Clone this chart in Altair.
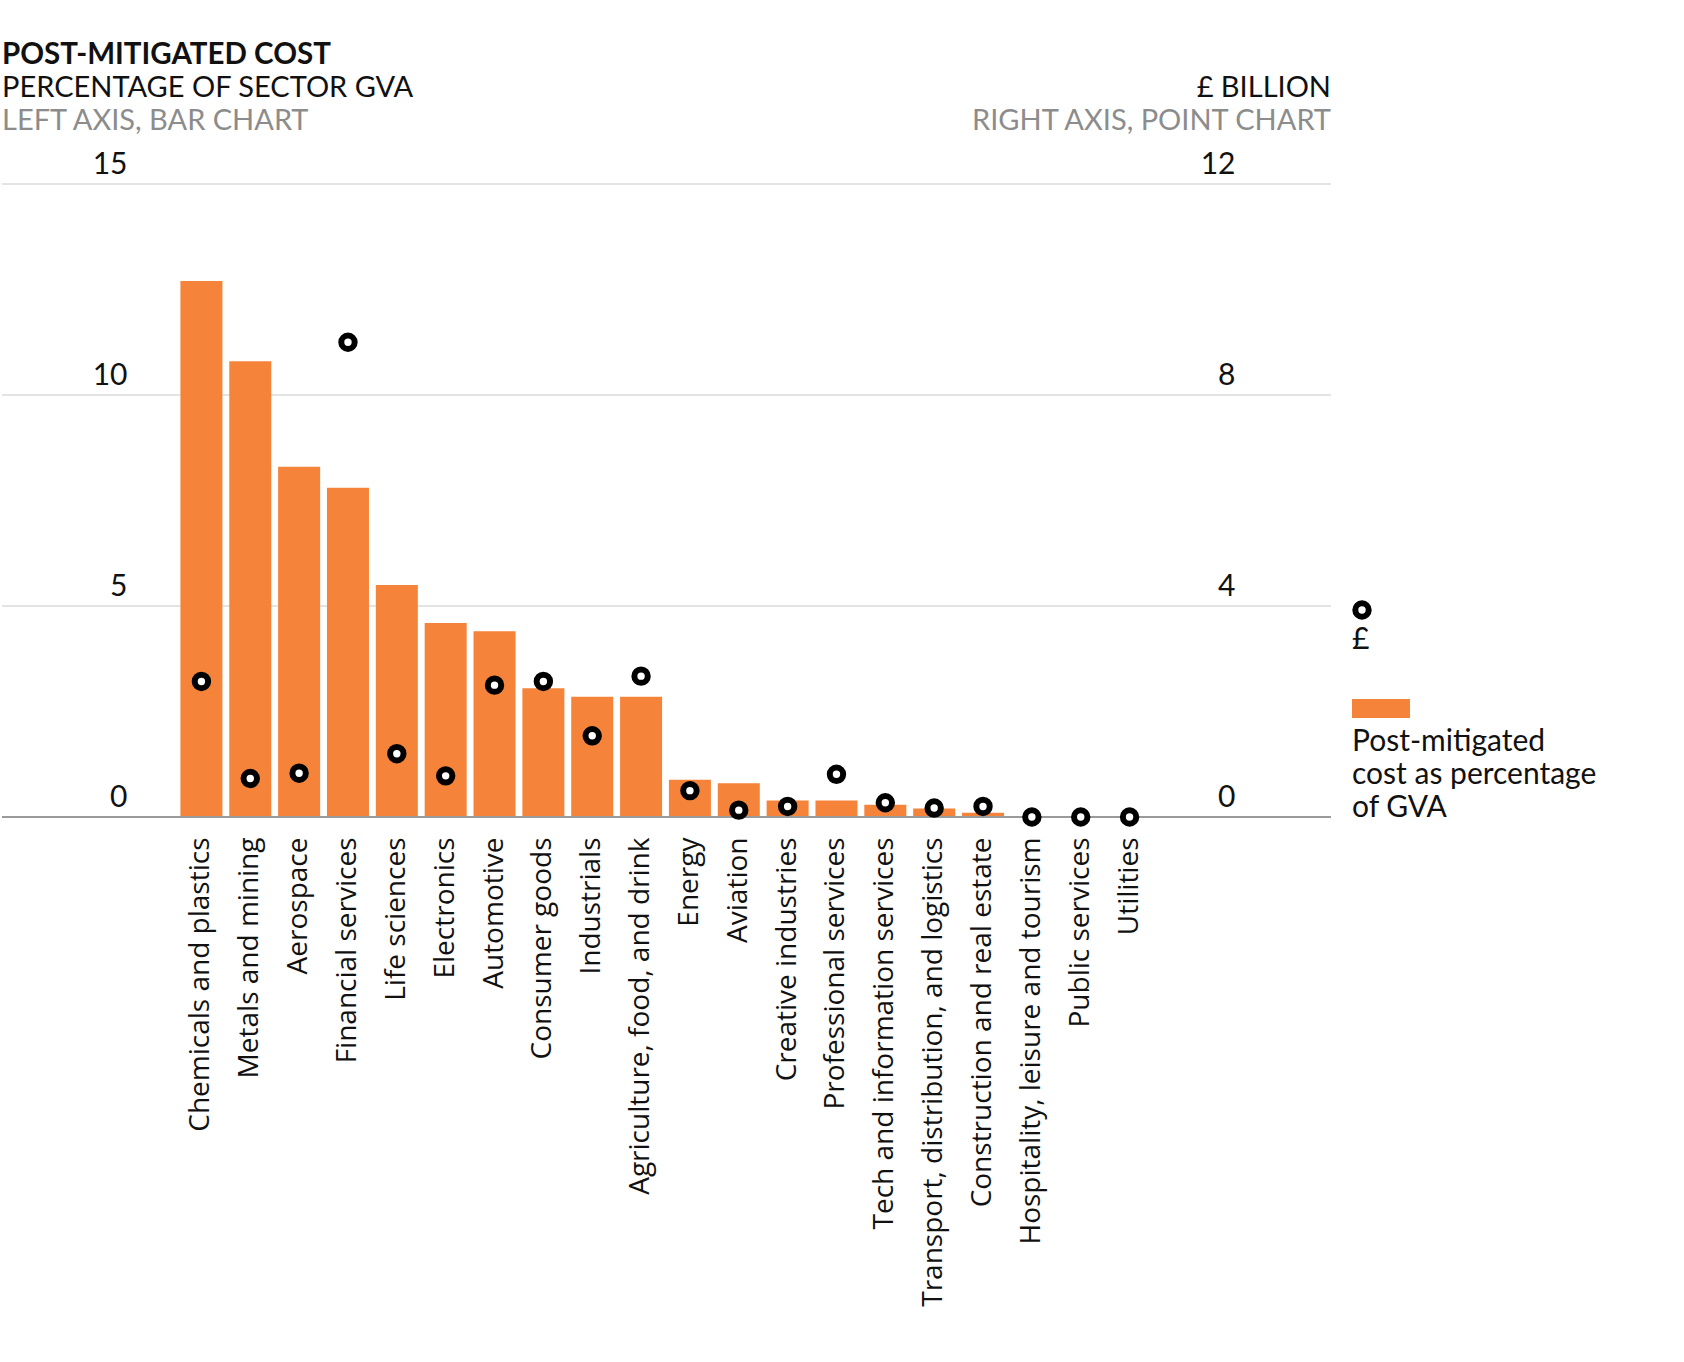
import altair as alt
import pandas as pd

sectors = [
    "Chemicals and plastics", "Metals and mining", "Aerospace", "Financial services",
    "Life sciences", "Electronics", "Automotive", "Consumer goods", "Industrials",
    "Agriculture,  food, and drink", "Energy", "Aviation", "Creative industries",
    "Professional services", "Tech and information services",
    "Transport, distribution, and logistics", "Construction and real estate",
    "Hospitality, leisure and tourism", "Public services", "Utilities",
]
pct_gva = [12.7, 10.8, 8.3, 7.8, 5.5, 4.6, 4.4, 3.05, 2.85, 2.85,
           0.88, 0.8, 0.39, 0.39, 0.29, 0.2, 0.1, 0.0, 0.0, 0.0]
cost_bn = [2.57, 0.73, 0.83, 9.0, 1.2, 0.78, 2.5, 2.57, 1.54, 2.67,
           0.5, 0.13, 0.2, 0.81, 0.27, 0.17, 0.2, 0.0, 0.0, 0.0]
left_ticks = [0, 5, 10, 15]
right_ticks = [0, 4, 8, 12]

df = pd.DataFrame({"sector": sectors, "pct": pct_gva, "bn": cost_bn})
grid_df = pd.DataFrame({"pct": left_ticks})

W, H = 1329, 633
ORANGE = "#F5833A"
TFONT = "Lato"
LFONT = "Open Sans"
DOT = dict(size=180, color="white", stroke="black", strokeWidth=6, opacity=1)

xenc = alt.X(
    "sector:N", sort=sectors, title=None,
    scale=alt.Scale(paddingInner=0.14, paddingOuter=0.07, range=[175, 1152]),
    axis=alt.Axis(labelAngle=-90, labelAlign="right", labelBaseline="middle",
                  labelPadding=20, labelFontSize=28, labelFont=LFONT,
                  labelColor="#111", labelLimit=0, ticks=False,
                  domain=False, grid=False),
)

left_axis = alt.Axis(orient="left", values=left_ticks, grid=False, domain=False,
                     ticks=False, tickSize=0, labelPadding=-125,
                     labelAlign="right", labelBaseline="alphabetic",
                     labelOffset=-11, labelFontSize=30, labelFont=TFONT,
                     labelColor="#111")
left_scale = alt.Scale(domain=[0, 15], nice=False)

gridlines = alt.Chart(grid_df).mark_rule(color="#c8c8c8", strokeWidth=1).encode(
    y=alt.Y("pct:Q", title=None, scale=left_scale, axis=left_axis),
    x=alt.value(0), x2=alt.value(W),
)

bars = alt.Chart(df).mark_bar(color=ORANGE).encode(
    x=xenc,
    y=alt.Y("pct:Q", title=None, scale=left_scale, axis=left_axis),
)

left_layer = alt.layer(gridlines, bars)

points = alt.Chart(df).mark_circle(**DOT).encode(
    x=alt.X("sector:N", sort=sectors),
    y=alt.Y("bn:Q", title=None, scale=alt.Scale(domain=[0, 12], nice=False),
            axis=alt.Axis(orient="right", values=right_ticks, grid=False,
                          domain=False, ticks=False, tickSize=0,
                          labelPadding=-96, labelAlign="right",
                          labelBaseline="alphabetic", labelOffset=-11,
                          labelFontSize=30, labelFont=TFONT, labelColor="#111")),
)

one = alt.Data(values=[{}])

baseline = alt.Chart(one).mark_rule(color="#9a9a9a", strokeWidth=2).encode(
    x=alt.value(0), x2=alt.value(W), y=alt.value(H)
)


def txt(s, x, y, size=29, color="#111", weight="normal", align="left", font=TFONT):
    return alt.Chart(one).mark_text(
        text=s, align=align, baseline="alphabetic", fontSize=size, font=font,
        color=color, fontWeight=weight,
    ).encode(x=alt.value(x), y=alt.value(y))


annotations = [
    txt("POST-MITIGATED COST", 0, -120, size=29.5, weight="bold"),
    txt("PERCENTAGE OF SECTOR GVA", 0, -87),
    txt("LEFT AXIS, BAR CHART", 0, -54, color="#8c8c8c"),
    txt("£ BILLION", W, -87, align="right"),
    txt("RIGHT AXIS, POINT CHART", W, -54, color="#8c8c8c", align="right"),
    txt("£", 1350, 465, size=30),
    txt("Post-mitigated", 1350, 567, size=30),
    txt("cost as percentage", 1350, 600, size=30),
    txt("of GVA", 1350, 633, size=30),
]

legend_dot = alt.Chart(one).mark_circle(**DOT).encode(
    x=alt.value(1360), y=alt.value(426)
)
legend_rect = alt.Chart(one).mark_rect(color=ORANGE).encode(
    x=alt.value(1350), x2=alt.value(1408), y=alt.value(515), y2=alt.value(534)
)

chart = alt.layer(
    left_layer, baseline, points, legend_dot, legend_rect, *annotations
).resolve_scale(y="independent").properties(
    width=W, height=H,
    autosize=alt.AutoSizeParams(type="none"),
    padding={"left": 2, "top": 184, "right": 353, "bottom": 545},
).configure(background="white").configure_view(stroke=None)

chart.save("out.html", embed_options={"renderer": "svg", "actions": False})
